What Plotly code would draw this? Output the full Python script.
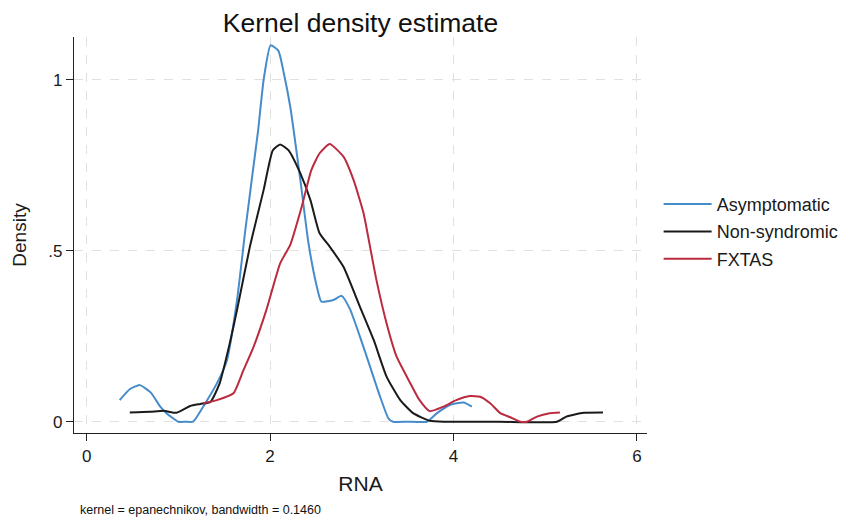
import plotly.graph_objects as go

# Asymptomatic
asym_x = [0.36, 0.47, 0.58, 0.70, 0.80, 0.87, 1.00, 1.08, 1.16, 1.27, 1.42, 1.53, 1.64, 1.73, 1.80, 1.87, 1.93, 2.006, 2.09, 2.15, 2.22, 2.33, 2.42, 2.51, 2.56, 2.69, 2.78, 2.87, 2.98, 3.09, 3.20, 3.29, 3.34, 3.50, 3.71, 3.82, 3.96, 4.11, 4.20]
asym_y = [0.063, 0.095, 0.107, 0.085, 0.045, 0.025, 0.0, 0.0, 0.0, 0.044, 0.112, 0.18, 0.356, 0.56, 0.707, 0.853, 1.0, 1.101, 1.085, 1.019, 0.921, 0.707, 0.52, 0.395, 0.351, 0.356, 0.368, 0.330, 0.249, 0.161, 0.073, 0.010, 0.0, 0.0, 0.0, 0.025, 0.049, 0.056, 0.044]

# Non-syndromic
nons_x = [0.47, 0.69, 0.84, 0.98, 1.13, 1.24, 1.35, 1.45, 1.56, 1.64, 1.78, 1.93, 2.03, 2.11, 2.20, 2.33, 2.44, 2.54, 2.65, 2.80, 2.98, 3.13, 3.27, 3.42, 3.56, 3.74, 3.90, 4.50, 5.13, 5.23, 5.42, 5.63]
nons_y = [0.027, 0.029, 0.032, 0.026, 0.046, 0.052, 0.058, 0.112, 0.229, 0.327, 0.512, 0.678, 0.794, 0.811, 0.794, 0.726, 0.648, 0.551, 0.512, 0.453, 0.336, 0.239, 0.132, 0.063, 0.025, 0.003, 0.0, 0.0, 0.0, 0.015, 0.026, 0.027]

# FXTAS
fx_x = [1.27, 1.42, 1.60, 1.71, 1.82, 1.96, 2.11, 2.22, 2.34, 2.45, 2.54, 2.65, 2.80, 2.91, 3.02, 3.09, 3.16, 3.27, 3.38, 3.53, 3.63, 3.74, 3.89, 4.03, 4.18, 4.29, 4.40, 4.51, 4.62, 4.73, 4.80, 4.91, 5.05, 5.16]
fx_y = [0.054, 0.063, 0.083, 0.151, 0.219, 0.327, 0.463, 0.517, 0.624, 0.736, 0.785, 0.812, 0.775, 0.707, 0.609, 0.512, 0.414, 0.288, 0.190, 0.112, 0.063, 0.031, 0.044, 0.063, 0.075, 0.073, 0.054, 0.025, 0.013, 0.0, 0.0, 0.015, 0.025, 0.027]

x_ticks = [0, 2, 4, 6]
y_ticks = [0, 0.5, 1]
y_ticklabels = ["0", ".5", "1"]

FONT = "Liberation Sans, Arial, Helvetica, sans-serif"

W, H = 840, 513
L, T, PW, PH = 66, 29, 573, 396

fig = go.Figure()
series = [
    ("Asymptomatic", asym_x, asym_y, "#468ccb"),
    ("Non-syndromic", nons_x, nons_y, "#1a1a1a"),
    ("FXTAS", fx_x, fx_y, "#bb2a3e"),
]
for name, xs, ys, col in series:
    fig.add_trace(go.Scatter(x=xs, y=ys, mode="lines", name=name, legendgroup=name,
                             line=dict(color=col, width=2, shape="spline", smoothing=0.5)))

fig.update_layout(
    width=W, height=H,
    margin=dict(l=L, r=W - L - PW, t=T, b=H - T - PH, autoexpand=False),
    paper_bgcolor="white", plot_bgcolor="white",
    font=dict(family=FONT, color="#1a1a1a", size=17),
    title=dict(text="Kernel density estimate", x=(L + PW / 2) / W, xanchor="center",
               y=1 - 15 / H, yanchor="middle", font=dict(size=26.5, color="#111")),
    showlegend=True,
    legend=dict(x=1.0203, y=0.508, xanchor="left", yanchor="middle", font=dict(size=18),
                tracegroupgap=1, itemwidth=48, bgcolor="rgba(0,0,0,0)"),
    xaxis=dict(range=[-0.138, 6.11], tickvals=x_ticks, ticktext=[str(v) for v in x_ticks],
               showline=True, linecolor="#222", linewidth=1.2, ticks="outside", ticklen=7,
               tickcolor="#222", showgrid=True, gridcolor="#e0e0e0", griddash="dash",
               zeroline=False, automargin=False,
               title=dict(text="RNA", font=dict(size=21), standoff=11)),
    yaxis=dict(range=[-0.033, 1.125], tickvals=y_ticks, ticktext=y_ticklabels,
               showline=True, linecolor="#222", linewidth=1.2, ticks="outside", ticklen=7,
               tickcolor="#222", showgrid=True, gridcolor="#e0e0e0", griddash="dash",
               zeroline=False, ticklabelstandoff=0, automargin=False,
               title=dict(text="Density", font=dict(size=19), standoff=16)),
)
fig.add_annotation(text="kernel = epanechnikov, bandwidth = 0.1460", xref="paper", yref="paper",
                   x=(70 - L) / PW, y=-(502 - (T + PH)) / PH, xanchor="left", yanchor="middle",
                   showarrow=False, font=dict(size=12.5, color="#111"))

fig.write_html("out.html")
